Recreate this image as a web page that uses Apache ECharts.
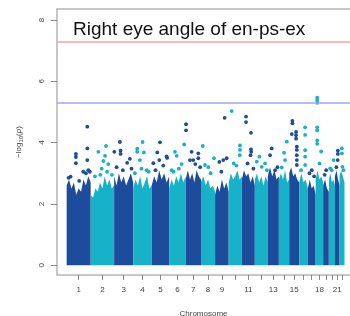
<!DOCTYPE html>
<html>
<head>
<meta charset="utf-8">
<script src="https://cdn.jsdelivr.net/npm/echarts@6/dist/echarts.min.js"></script>
<style>
  html, body { margin: 0; background: #fff; }
  #chart { width: 350px; height: 316px; }
</style>
</head>
<body>
<div id="chart"></div>
<script>
// chromosome lengths (Mb)
const chrLen = [249, 243, 198, 191, 181, 171, 159, 146, 141, 136, 135, 134, 115, 107, 103, 90, 81, 78, 59, 63, 48, 51];
// chromosomes that get a label under the axis
const shownLabels = [1, 2, 3, 4, 5, 6, 7, 8, 9, 11, 13, 15, 18, 21];
// top of the dense block of points, a few steps along each chromosome
const bandTop = [
  [2.6, 2.8, 2.5, 2.7, 2.3, 2.5, 2.4, 2.8, 2.6, 2.9, 2.7],
  [2.3, 2.2, 2.5, 2.4, 2.7, 2.5, 2.9, 2.6, 2.8, 2.5, 2.6],
  [2.9, 2.6, 3.0, 2.7, 2.9, 2.6, 2.8, 3.0, 2.7],
  [2.5, 2.8, 2.6, 2.9, 2.5, 2.7, 2.9, 2.5, 2.6],
  [2.6, 2.9, 2.7, 3.1, 2.8, 3.0, 2.7, 2.9],
  [2.5, 2.8, 2.6, 2.9, 2.7, 3.0, 2.7, 2.9],
  [2.8, 3.1, 2.8, 3.0, 2.7, 3.1, 2.9, 2.8],
  [2.7, 2.9, 2.6, 2.8, 2.5, 2.6, 2.4],
  [2.3, 2.6, 2.4, 2.8, 2.5, 2.7, 2.4],
  [2.7, 3.0, 2.8, 2.9, 3.1, 2.8, 2.9],
  [2.8, 3.1, 2.9, 3.0, 2.7, 2.9, 2.6],
  [2.8, 3.0, 2.7, 2.9, 2.6, 2.9, 2.7],
  [2.9, 3.2, 2.9, 3.1, 2.8, 2.9],
  [2.8, 3.0, 2.8, 3.1, 2.7, 2.8],
  [3.0, 3.2, 2.9, 3.0, 2.8, 2.7],
  [2.7, 3.0, 2.7, 2.8, 2.5],
  [2.5, 2.8, 2.5, 2.6, 2.3],
  [2.8, 3.1, 2.8, 2.9, 2.7],
  [2.6, 2.8, 2.5, 2.4],
  [2.8, 3.0, 2.7, 2.8, 2.6],
  [2.9, 3.1, 2.8, 2.6],
  [2.9, 3.1, 2.9, 2.7]
];
// single SNPs above the block: [chromosome, position Mb, -log10 p]
const hits = [
  [1, 41, 2.89], [1, 96, 3.63], [1, 96, 3.53], [1, 96, 3.33], [1, 172, 3.05], [1, 214, 4.52], [1, 214, 3.81], [1, 214, 3.43], [1, 225, 3.1],
  [1, 20, 2.85], [1, 130, 2.75], [1, 200, 3.0], [1, 240, 3.05],
  [2, 44, 2.9], [2, 79, 3.7], [2, 114, 3.15], [2, 131, 3.4], [2, 149, 3.57], [2, 159, 3.89], [2, 182, 3.3],
  [2, 100, 2.95], [2, 170, 3.05], [2, 220, 2.95],
  [3, 2, 3.7], [3, 26, 3.2], [3, 60, 4.02], [3, 67, 3.74], [3, 67, 3.63], [3, 135, 3.34], [3, 163, 3.47],
  [3, 90, 3.1], [3, 180, 3.15],
  [4, 17, 3.0], [4, 41, 3.8], [4, 41, 3.7], [4, 69, 3.43], [4, 97, 4.02], [4, 110, 3.68], [4, 139, 3.1],
  [4, 160, 3.05], [4, 85, 3.15],
  [5, 17, 3.33], [5, 58, 3.68], [5, 79, 3.43], [5, 86, 4.01], [5, 155, 3.55], [5, 160, 3.5],
  [5, 120, 3.25], [5, 40, 3.1],
  [6, 26, 3.1], [6, 60, 3.7], [6, 78, 3.57], [6, 129, 3.3], [6, 156, 3.94],
  [6, 100, 3.15], [6, 45, 3.05],
  [7, 4, 4.6], [7, 4, 4.4], [7, 45, 3.43], [7, 62, 3.7], [7, 79, 3.43], [7, 131, 3.65], [7, 131, 3.49],
  [7, 100, 3.3], [7, 150, 3.2],
  [8, 18, 3.89], [8, 41, 3.27], [8, 76, 3.2], [8, 135, 3.49], [8, 100, 3.0],
  [9, 44, 3.37], [9, 85, 3.43], [9, 99, 4.81], [9, 120, 3.49], [9, 65, 3.05],
  [10, 31, 5.03], [10, 52, 3.32], [10, 117, 3.91], [10, 117, 3.76], [10, 115, 3.59], [10, 80, 3.25],
  [11, 44, 4.85], [11, 44, 4.67], [11, 95, 4.32], [11, 95, 3.78], [11, 97, 3.7], [11, 90, 3.59], [11, 60, 3.32], [11, 120, 3.15],
  [12, 20, 3.38], [12, 47, 3.54], [12, 71, 3.21], [12, 106, 3.32], [12, 125, 3.1],
  [13, 24, 3.59], [13, 41, 3.81], [13, 76, 3.1], [13, 100, 3.2],
  [14, 30, 3.19], [14, 54, 3.67], [14, 64, 3.43], [14, 82, 4.03],
  [15, 27, 4.28], [15, 33, 4.71], [15, 33, 4.63], [15, 71, 4.35], [15, 71, 4.24], [15, 71, 4.13],
  [15, 79, 3.87], [15, 79, 3.76], [15, 79, 3.59], [15, 79, 3.43], [15, 79, 3.27],
  [16, 62, 4.5], [16, 62, 4.25], [16, 62, 3.75], [16, 62, 3.54], [16, 62, 3.27], [16, 20, 3.1],
  [17, 17, 3.0], [17, 41, 3.1], [17, 65, 2.9],
  [18, 16, 5.47], [18, 16, 5.39], [18, 16, 5.3], [18, 16, 4.5], [18, 16, 4.4], [18, 16, 4.07], [18, 16, 3.96], [18, 57, 3.71], [18, 40, 3.32],
  [19, 31, 3.1], [19, 15, 2.95],
  [20, 13, 3.16], [20, 48, 3.43], [20, 30, 3.1],
  [21, 30, 3.74], [21, 30, 3.63], [21, 28, 3.43], [21, 15, 3.2],
  [22, 24, 3.81], [22, 24, 3.65], [22, 30, 3.21], [22, 40, 3.1]
];
const genomeWide = 7.3;
const suggestive = 5.3;

const colors = ['#1e4c9c', '#17b2c8'];
const chrStart = [];
chrLen.reduce((acc, l, i) => { chrStart[i] = acc; return acc + l; }, 0);
const chrMid = chrLen.map((l, i) => chrStart[i] + l / 2);

const chart = echarts.init(document.getElementById('chart'), null, { renderer: 'canvas' });

const textBase = { fontSize: 8, color: '#444', fontFamily: 'Liberation Sans' };

const option = {
  animation: false,
  title: {
    text: 'Right eye angle of en-ps-ex',
    left: 73,
    top: 20,
    padding: 0,
    textStyle: { fontFamily: 'Liberation Sans', fontSize: 19, fontWeight: 'normal', color: '#111' }
  },
  grid: { left: 57, right: 0, top: 9, bottom: 41, outerBoundsMode: 'none' },
  xAxis: [
    {
      type: 'value',
      min: -100,
      max: 2936,
      splitLine: { show: false },
      axisLine: { show: true, onZero: false, lineStyle: { color: '#b5b5b5', width: 1.5 } },
      axisTick: { show: true, length: 5, customValues: chrMid, lineStyle: { color: '#888' } },
      axisLabel: Object.assign({
        customValues: shownLabels.map(c => chrMid[c - 1]),
        formatter: v => String(chrMid.findIndex(m => Math.abs(m - v) < 0.5) + 1),
        margin: 11
      }, textBase),
      name: 'Chromosome',
      nameLocation: 'middle',
      nameGap: 35,
      nameTextStyle: textBase
    },
    {
      type: 'value',
      position: 'top',
      min: -100,
      max: 2936,
      splitLine: { show: false },
      axisLine: { show: true, onZero: false, lineStyle: { color: '#b5b5b5', width: 1.5 } },
      axisTick: { show: false },
      axisLabel: { show: false }
    }
  ],
  yAxis: {
    type: 'value',
    min: -0.32,
    max: 8.36,
    splitLine: { show: false },
    axisLine: { show: true, onZero: false, lineStyle: { color: '#b5b5b5', width: 1.5 } },
    axisTick: { show: true, length: 6, customValues: [0, 2, 4, 6, 8], lineStyle: { color: '#888' } },
    axisLabel: Object.assign({ customValues: [0, 2, 4, 6, 8], rotate: 90, margin: 11 }, textBase),
    name: '{a|\u2212log}{s|10}{a|(}{i|p}{a|)}',
    nameLocation: 'middle',
    nameRotate: 90,
    nameGap: 33,
    nameTextStyle: {
      rich: {
        a: textBase,
        s: Object.assign({}, textBase, { fontSize: 6, padding: [4, 0, 0, 0] }),
        i: Object.assign({}, textBase, { fontStyle: 'italic' })
      }
    }
  },
  series: [
    {
      type: 'custom',
      clip: true,
      silent: true,
      data: chrLen.map((l, i) => [chrMid[i], 0, i]),
      renderItem(params, api) {
        const i = api.value(2);
        const tops = bandTop[i];
        const pts = [api.coord([chrStart[i], 0])];
        tops.forEach((h, k) => pts.push(api.coord([chrStart[i] + chrLen[i] * k / (tops.length - 1), h])));
        pts.push(api.coord([chrStart[i] + chrLen[i], 0]));
        return { type: 'polygon', shape: { points: pts }, style: { fill: colors[i % 2] } };
      },
      markLine: {
        silent: true,
        symbol: 'none',
        label: { show: false },
        data: [
          { yAxis: genomeWide, lineStyle: { color: '#f5a3a8', width: 1.5, type: 'solid' } },
          { yAxis: suggestive, lineStyle: { color: '#a3a3f5', width: 1.5, type: 'solid' } }
        ]
      }
    },
    {
      type: 'scatter',
      symbolSize: 3.8,
      silent: true,
      data: hits.map(h => [chrStart[h[0] - 1] + h[1], h[2], h[0] - 1]),
      itemStyle: { color: p => colors[p.data[2] % 2], opacity: 1 }
    }
  ]
};

chart.setOption(option);
</script>
</body>
</html>
